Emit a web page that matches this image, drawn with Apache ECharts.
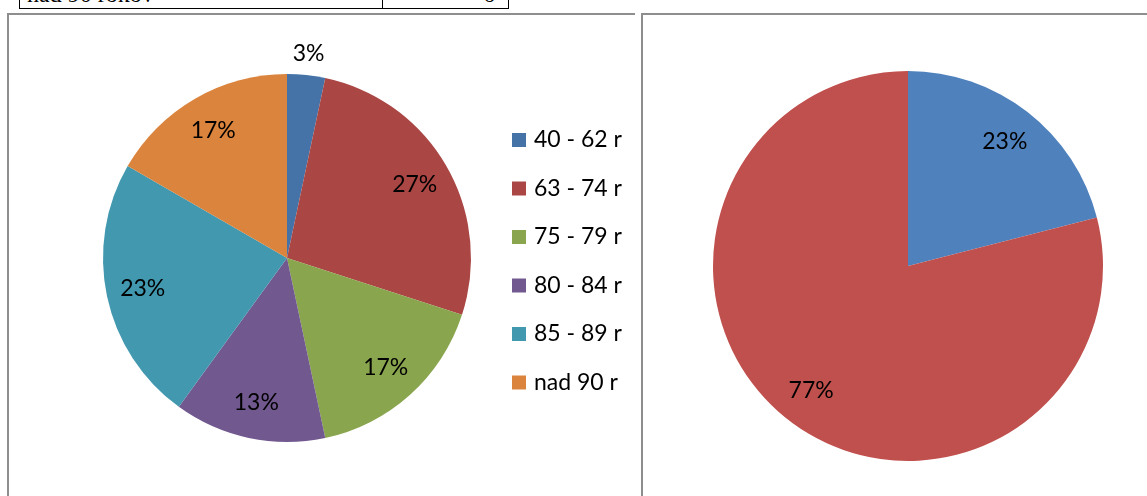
<!DOCTYPE html>
<html>
<head>
<meta charset="utf-8">
<script src="https://cdn.jsdelivr.net/npm/echarts@6/dist/echarts.min.js"></script>
<style>
  body { margin: 0; background: #fff; }
  #wrap { position: relative; width: 1147px; height: 496px; overflow: hidden; }
  .frame { position: absolute; border-left: 2px solid #8e8e8e; border-top: 2px solid #8e8e8e; }
  #tbl { position: absolute; left: 19px; top: -20px; width: 488px; height: 27px; border: 1px solid #000;
         font-family: "Liberation Serif", serif; font-size: 24px; line-height: 24px; }
  #tbl .c1 { position: absolute; left: 7px; top: 1px; }
  #tbl .c2 { position: absolute; left: 362px; top: 0; width: 0; height: 27px; border-left: 1px solid #000; }
  #tbl .c3 { position: absolute; left: 463px; top: 1px; }
  #chart { position: absolute; left: 0; top: 0; width: 1147px; height: 496px; }
</style>
</head>
<body>
<div id="wrap">
  <div id="tbl"><span class="c1">nad 90 rokov</span><div class="c2"></div><span class="c3">6</span></div>
  <div class="frame" style="left:7px; top:13px; width:626px; height:500px;"></div>
  <div class="frame" style="left:641px; top:13px; width:520px; height:500px;"></div>
  <div id="chart"></div>
</div>
<script>
// left pie: age groups (counts)
var ageGroups = ['40 - 62 r', '63 - 74 r', '75 - 79 r', '80 - 84 r', '85 - 89 r', 'nad 90 r'];
var ageCounts = [1, 8, 5, 4, 7, 5];
var ageColors = ['#4572A7', '#AA4643', '#89A54E', '#71588F', '#4198AF', '#DB843D'];

// right pie: two shares (angles) and their printed labels
var shareNames = ['A', 'B'];
var shareValues = [21, 79];
var shareLabels = ['23%', '77%'];
var shareColors = ['#4F81BD', '#C0504D'];

var font = 'Lato';

var leftData = ageGroups.map(function (n, i) {
  return {name: n, value: ageCounts[i]};
});
var rightData = shareNames.map(function (n, i) {
  return {name: n, value: shareValues[i], itemStyle: {color: shareColors[i]}};
});

function pct(p) { return Math.round(p.percent) + '%'; }

var labelStyle = {color: '#000', fontSize: 23, fontFamily: font};

var chart = echarts.init(document.getElementById('chart'));
chart.setOption({
  animation: false,
  color: ageColors,
  legend: {
    orient: 'vertical',
    left: 507,
    top: 123,
    icon: 'rect',
    itemWidth: 14,
    itemHeight: 14,
    itemGap: 24.5,
    selectedMode: false,
    data: ageGroups,
    textStyle: {color: '#000', fontSize: 23, fontFamily: font, lineHeight: 24, padding: [0, 0, 0, 3]}
  },
  series: [
    {
      type: 'pie',
      center: [287, 258],
      radius: [0, 184],
      avoidLabelOverlap: false,
      label: {show: false},
      labelLine: {show: false},
      data: leftData
    },
    {
      // label ring for the left pie
      type: 'pie',
      silent: true,
      center: [287, 258],
      radius: [105, 184],
      avoidLabelOverlap: false,
      itemStyle: {color: 'transparent'},
      label: Object.assign({show: true, position: 'inside', formatter: pct}, labelStyle),
      labelLine: {show: false},
      data: leftData.map(function (d, i) {
        return {name: d.name, value: d.value, label: {show: i !== 0}};
      })
    },
    {
      // small slice label sits outside
      type: 'pie',
      silent: true,
      center: [287, 258],
      radius: [184, 222],
      avoidLabelOverlap: false,
      itemStyle: {color: 'transparent'},
      label: Object.assign({show: true, position: 'inside', formatter: pct}, labelStyle),
      labelLine: {show: false},
      data: leftData.map(function (d, i) {
        return {name: d.name, value: d.value, label: {show: i === 0}};
      })
    },
    {
      type: 'pie',
      center: [908, 266],
      radius: [0, 195],
      avoidLabelOverlap: false,
      label: {show: false},
      labelLine: {show: false},
      data: rightData
    },
    {
      type: 'pie',
      silent: true,
      center: [908, 266],
      radius: [115, 195],
      avoidLabelOverlap: false,
      itemStyle: {color: 'transparent'},
      label: Object.assign({show: true, position: 'inside', formatter: function (p) {
        return shareLabels[p.dataIndex];
      }}, labelStyle),
      labelLine: {show: false},
      data: rightData.map(function (d) { return {name: d.name, value: d.value}; })
    }
  ]
});
</script>
</body>
</html>
